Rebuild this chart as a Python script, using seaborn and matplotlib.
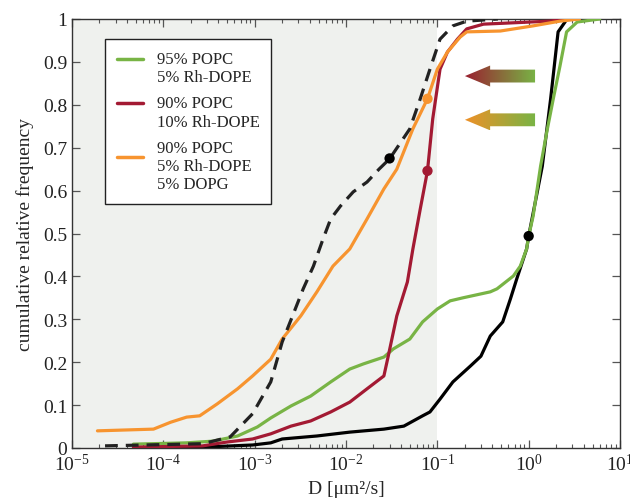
import numpy as np
import pandas as pd
import matplotlib
matplotlib.use('Agg')
import matplotlib.pyplot as plt
import seaborn as sns
from matplotlib.colors import LinearSegmentedColormap
from matplotlib.patches import Polygon
from matplotlib.legend_handler import HandlerLine2D
from matplotlib.ticker import LogLocator, LogFormatterMathtext, FixedLocator, FormatStrFormatter, NullFormatter

# curves (D in um^2/s, cumulative frequency)
green_x = [4.7e-5, 1.8e-4, 3.5e-4, 6.5e-4, 1.07e-3, 1.5e-3, 2.5e-3, 4.1e-3, 6.8e-3, 1.1e-2,
           1.55e-2, 2.6e-2, 3.3e-2, 5.0e-2, 6.9e-2, 0.10, 0.138, 0.19, 0.38, 0.45,
           0.68, 0.81, 0.95, 1.0, 1.12, 1.35, 1.58, 1.86, 2.2, 2.6, 3.4, 6.0]
green_y = [0.009, 0.012, 0.016, 0.028, 0.049, 0.07, 0.098, 0.121, 0.154, 0.184,
           0.196, 0.212, 0.231, 0.254, 0.294, 0.324, 0.343, 0.350, 0.364, 0.371,
           0.401, 0.424, 0.464, 0.494, 0.541, 0.657, 0.737, 0.814, 0.890, 0.970, 0.993, 1.0]

red_x = [4.7e-5, 2.7e-4, 5.0e-4, 9.5e-4, 1.5e-3, 2.5e-3, 4.1e-3, 6.8e-3, 1.1e-2, 1.7e-2,
         2.6e-2, 2.9e-2, 3.6e-2, 4.7e-2, 5.4e-2, 6.5e-2, 7.8e-2, 8.9e-2, 0.107, 0.129,
         0.166, 0.21, 0.32, 1.7, 2.6]
red_y = [0.002, 0.005, 0.014, 0.021, 0.033, 0.051, 0.063, 0.084, 0.107, 0.138,
         0.168, 0.214, 0.308, 0.387, 0.464, 0.557, 0.646, 0.767, 0.883, 0.923,
         0.953, 0.977, 0.988, 0.995, 1.0]

orange_x = [1.9e-5, 7.8e-5, 1.2e-4, 1.8e-4, 2.5e-4, 3.9e-4, 6.5e-4, 9.5e-4, 1.5e-3, 2.0e-3,
            3.2e-3, 4.8e-3, 7.2e-3, 1.1e-2, 1.7e-2, 2.6e-2, 3.6e-2, 5.4e-2, 7.8e-2, 0.10,
            0.129, 0.178, 0.21, 0.49, 1.12, 2.2, 3.6]
orange_y = [0.04, 0.044, 0.06, 0.072, 0.075, 0.103, 0.138, 0.168, 0.207, 0.254,
            0.308, 0.364, 0.424, 0.464, 0.534, 0.604, 0.650, 0.744, 0.814, 0.883,
            0.923, 0.958, 0.970, 0.972, 0.984, 0.995, 1.0]

black_x = [1.2e-4, 2.7e-4, 9.5e-4, 1.5e-3, 2.0e-3, 4.8e-3, 1.1e-2, 2.6e-2, 4.3e-2, 6.9e-2,
           8.3e-2, 0.107, 0.148, 0.23, 0.30, 0.38, 0.52, 0.63, 0.74, 0.95,
           1.0, 1.41, 1.74, 2.1, 2.5, 2.6]
black_y = [0.0, 0.002, 0.007, 0.012, 0.021, 0.028, 0.037, 0.044, 0.051, 0.075,
           0.084, 0.114, 0.154, 0.191, 0.214, 0.261, 0.294, 0.347, 0.394, 0.464,
           0.494, 0.657, 0.814, 0.970, 0.993, 1.0]

dash_x = [2.3e-5, 2.7e-4, 5.4e-4, 9.5e-4, 1.5e-3, 2.0e-3, 2.6e-3, 3.4e-3, 4.4e-3, 5.6e-3,
          6.8e-3, 8.7e-3, 1.2e-2, 1.7e-2, 2.3e-2, 3.0e-2, 5.0e-2, 6.5e-2, 8.3e-2, 0.107,
          0.148, 0.21, 0.46]
dash_y = [0.005, 0.01, 0.026, 0.08, 0.154, 0.247, 0.308, 0.371, 0.424, 0.487,
          0.534, 0.564, 0.597, 0.620, 0.650, 0.674, 0.744, 0.814, 0.883, 0.953,
          0.984, 0.995, 1.0]

dot_x = [3.0e-2, 7.8e-2, 7.8e-2, 1.0]
dot_y = [0.675, 0.814, 0.646, 0.494]

labels = ['95% POPC\n5% Rh-DOPE', '90% POPC\n10% Rh-DOPE', '90% POPC\n5% Rh-DOPE\n5% DOPG']
yticks = [0, 0.1, 0.2, 0.3, 0.4, 0.5, 0.6, 0.7, 0.8, 0.9, 1]

GREEN = '#78b445'
RED = '#a31a33'
ORANGE = '#f7942f'
dot_colors = ['black', ORANGE, RED, 'black']

sns.set_style('ticks')
plt.rcParams['font.family'] = ['Liberation Serif', 'DejaVu Serif']
plt.rcParams['mathtext.fontset'] = 'stix'


class FirstLineHandler(HandlerLine2D):
    # put the legend line next to the first text line, not the block centre
    def create_artists(self, legend, orig_handle, xdescent, ydescent, width, height,
                       fontsize, trans):
        arts = super().create_artists(legend, orig_handle, xdescent, ydescent, width,
                                      height, fontsize, trans)
        n = orig_handle.get_label().count('\n')
        shift = fontsize * (0.55 + 0.0 * n)
        for a in arts:
            a.set_ydata(np.asarray(a.get_ydata()) + shift)
        return arts


df = pd.concat([
    pd.DataFrame({'D': green_x, 'F': green_y, 'sample': labels[0]}),
    pd.DataFrame({'D': red_x, 'F': red_y, 'sample': labels[1]}),
    pd.DataFrame({'D': orange_x, 'F': orange_y, 'sample': labels[2]}),
])

fig = plt.figure(figsize=(6.3, 5.02), dpi=100)
ax = fig.add_axes([72 / 630, 53 / 502, 548 / 630, 429 / 502])

# shaded region up to 10^-1
ax.axvspan(1e-5, 1e-1, color='#eff1ee', zorder=0, lw=0)

sns.lineplot(data=df, x='D', y='F', hue='sample', hue_order=labels,
             palette=[GREEN, RED, ORANGE], sort=False, estimator=None,
             lw=2.3, ax=ax, zorder=3)
sns.lineplot(x=black_x, y=black_y, color='black', lw=2.3, sort=False,
             estimator=None, ax=ax, legend=False, zorder=2)
sns.lineplot(x=dash_x, y=dash_y, color='#222222', lw=2.3, sort=False,
             estimator=None, ax=ax, legend=False, zorder=4)
ax.lines[-1].set_dashes([4, 2.5])
ax.scatter(dot_x, dot_y, c=dot_colors, s=55, zorder=5, linewidths=0)


# gradient arrows
def grad_arrow(yc, c0, c1):
    tip, hx, end = 0.717, 0.763, 0.845
    hh, sh = 0.0245, 0.015
    pts = [(tip, yc), (hx, yc + hh), (hx, yc + sh), (end, yc + sh),
           (end, yc - sh), (hx, yc - sh), (hx, yc - hh)]
    poly = Polygon(pts, closed=True, transform=ax.transAxes, fc='none', ec='none')
    ax.add_patch(poly)
    cmap = LinearSegmentedColormap.from_list('g', [c0, c1])
    im = ax.imshow(np.linspace(0, 1, 256)[None, :], cmap=cmap, aspect='auto',
                   extent=(tip, end, yc - hh, yc + hh), transform=ax.transAxes,
                   zorder=3, interpolation='bilinear')
    im.set_clip_path(poly)


grad_arrow(0.867, '#9a2030', '#78b445')
grad_arrow(0.765, '#ee9128', '#78b445')

ax.set_xscale('log')
ax.set_xlim(1e-5, 10)
ax.set_ylim(0, 1)
ax.xaxis.set_major_locator(LogLocator(base=10, numticks=10))
ax.xaxis.set_major_formatter(LogFormatterMathtext())
ax.xaxis.set_minor_locator(LogLocator(base=10, subs=np.arange(2, 10), numticks=100))
ax.xaxis.set_minor_formatter(NullFormatter())
ax.yaxis.set_major_locator(FixedLocator(yticks))
ax.yaxis.set_major_formatter(FormatStrFormatter('%g'))
ax.tick_params(which='both', direction='in', top=True, right=True, color='#555555',
               labelsize=14, labelcolor='#222222')
ax.tick_params(which='major', length=6, width=0.9)
ax.tick_params(which='minor', length=3, width=0.8)
for s in ax.spines.values():
    s.set_color('#333333')
    s.set_linewidth(1.0)

ax.set_xlabel('D [μm²/s]', fontsize=14, labelpad=4)
ax.set_ylabel('cumulative relative frequency', fontsize=14, labelpad=6)

handles, _ = ax.get_legend_handles_labels()
leg = ax.legend(handles, labels, loc='upper left', bbox_to_anchor=(0.06, 0.953),
                borderaxespad=0, fontsize=12, handlelength=1.6, handletextpad=0.8,
                labelspacing=0.6, frameon=True, fancybox=False, edgecolor='#222222',
                framealpha=1, borderpad=0.7,
                handler_map={h: FirstLineHandler() for h in handles})
leg.get_frame().set_linewidth(1.0)
for ln in leg.get_lines():
    ln.set_linewidth(2.5)

fig.savefig('out.png', dpi=100)
